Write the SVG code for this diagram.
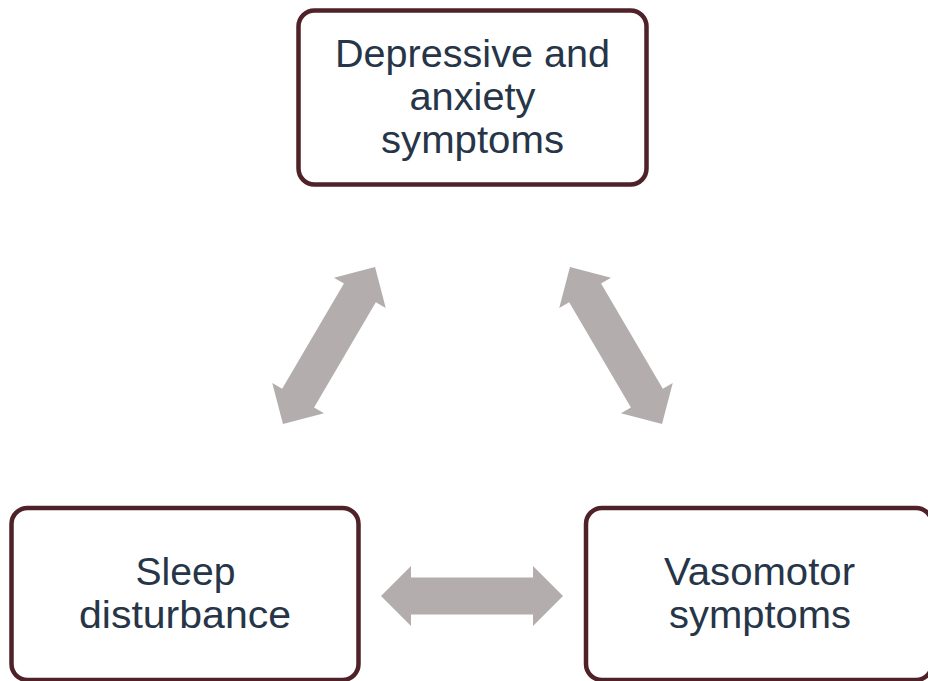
<svg xmlns="http://www.w3.org/2000/svg" width="928" height="681" viewBox="0 0 928 681">
<style>
.box{fill:#ffffff;stroke:#4f2129;stroke-width:4.5}
.lbl{font-family:"Liberation Sans",Arial,sans-serif;font-size:38px;fill:#263547;text-anchor:middle}
.arr{fill:#b4adad}
</style>
<defs>
<path id="dbl" d="M -91,0 L -61,-30 L -61,-18.5 L 61,-18.5 L 61,-30 L 91,0 L 61,30 L 61,18.5 L -61,18.5 L -61,30 Z"/>
</defs>
<rect width="928" height="681" fill="#ffffff"/>
<g id="connectors">
<use href="#dbl" class="arr" transform="translate(329,345.5) rotate(-59.6)"/>
<use href="#dbl" class="arr" transform="translate(616,345.5) rotate(59.6)"/>
<use href="#dbl" class="arr" transform="translate(472,596)"/>
</g>
<g id="node-depressive">
<rect class="box" x="298.5" y="10.5" width="348" height="174" rx="16"/>
<text class="lbl" x="472.5" y="67" textLength="275" lengthAdjust="spacingAndGlyphs">Depressive and</text>
<text class="lbl" x="472.5" y="110" textLength="126" lengthAdjust="spacingAndGlyphs">anxiety</text>
<text class="lbl" x="472.5" y="153" textLength="183" lengthAdjust="spacingAndGlyphs">symptoms</text>
</g>
<g id="node-sleep">
<rect class="box" x="11.5" y="508" width="347" height="172" rx="16"/>
<text class="lbl" x="185.5" y="585" textLength="100" lengthAdjust="spacingAndGlyphs">Sleep</text>
<text class="lbl" x="185" y="628" textLength="212" lengthAdjust="spacingAndGlyphs">disturbance</text>
</g>
<g id="node-vasomotor">
<rect class="box" x="586" y="508" width="346" height="172" rx="16"/>
<text class="lbl" x="759.5" y="585" textLength="191" lengthAdjust="spacingAndGlyphs">Vasomotor</text>
<text class="lbl" x="760" y="628" textLength="182" lengthAdjust="spacingAndGlyphs">symptoms</text>
</g>
</svg>
